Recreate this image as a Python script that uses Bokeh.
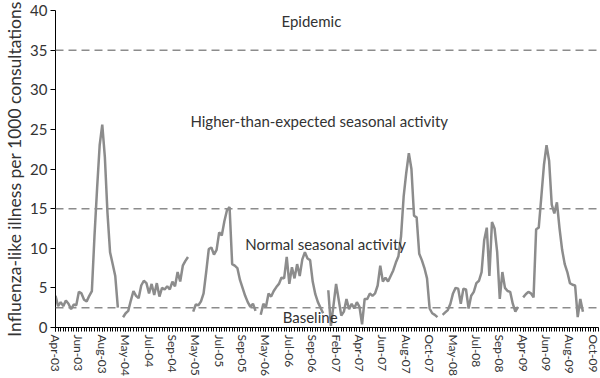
import math
from bokeh.plotting import figure
from bokeh.models import Range1d, FixedTicker, Span, Label
from bokeh.embed import file_html
from bokeh.resources import INLINE

# ---- data (weekly ILI rate per 1000 consultations, one list per season) ----
tick_labels = ["Apr-03", "Jun-03", "Aug-03", "May-04", "Jul-04", "Sep-04",
               "May-05", "Jul-05", "Sep-05", "May-06", "Jul-06", "Sep-06",
               "Feb-07", "Apr-07", "Jun-07", "Aug-07", "Oct-07", "May-08",
               "Jul-08", "Sep-08", "Apr-09", "Jun-09", "Aug-09", "Oct-09"]

season_2003 = [4.0, 2.7, 3.2, 2.7, 3.4, 3.0, 2.3, 2.9, 2.8, 4.5, 4.3, 3.5, 3.3,
               4.0, 4.6, 11.5, 17.5, 23.0, 25.6, 21.5, 14.5, 9.5, 8.0, 6.5, 2.5]
season_2004 = [1.3, 1.8, 2.1, 3.4, 4.6, 4.0, 3.7, 5.3, 5.9, 5.6, 4.3, 5.5, 4.1,
               5.6, 3.9, 5.0, 4.8, 5.2, 4.8, 5.8, 5.2, 7.0, 5.8, 7.8, 8.4, 8.9]
season_2005 = [2.0, 2.9, 2.8, 3.3, 4.3, 7.0, 9.9, 10.1, 9.2, 9.8, 12.0, 11.6,
               13.4, 14.8, 15.2, 8.0, 7.8, 7.5, 6.0, 5.0, 4.0, 3.2, 2.6, 3.0, 2.1]
season_2006 = [1.6, 3.0, 2.6, 4.3, 3.9, 4.6, 5.1, 5.5, 6.3, 6.2, 8.9, 5.5, 7.6,
               6.2, 8.0, 6.5, 8.6, 9.5, 8.7, 8.5, 5.8, 4.2, 3.2, 2.5, 1.8]
season_2007 = [4.7, 0.2, 2.8, 5.5, 3.5, 1.5, 2.0, 3.6, 2.3, 3.0, 2.4, 3.2, 2.6,
               0.4, 3.6, 3.6, 4.3, 4.0, 4.3, 5.3, 7.8, 5.8, 6.3, 5.8, 6.5, 7.2,
               8.2, 9.0, 11.5, 16.5, 19.5, 22.0, 20.0, 14.1, 13.9, 9.3, 8.5, 7.5,
               6.2, 2.4, 1.8, 1.6, 1.3]
season_2008 = [1.6, 1.9, 2.2, 3.0, 4.3, 5.0, 4.9, 3.0, 4.9, 4.8, 2.4, 4.0, 4.5,
               5.6, 5.9, 7.0, 11.0, 12.6, 6.5, 13.3, 12.5, 9.5, 3.6, 7.0, 5.0,
               4.6, 4.5, 3.0, 2.0, 2.6]
season_2009 = [3.8, 4.2, 4.5, 4.3, 3.8, 12.4, 12.6, 16.5, 20.5, 23.0, 21.0, 15.5,
               14.4, 15.8, 12.5, 9.8, 8.0, 7.0, 5.6, 5.4, 5.3, 1.3, 3.6, 2.0]

seasons = [season_2003, season_2004, season_2005, season_2006,
           season_2007, season_2008, season_2009]
n_weeks = 210
label_step = 9
thresholds = [2.5, 15, 35]

# ---- build the weekly series with a break between seasons ----
series = []
for s in seasons:
    series += s + [float("nan")]
series = series[:-1]
series += [float("nan")] * (n_weeks - len(series))
weeks = list(range(n_weeks))
label_idx = list(range(0, n_weeks, label_step))[:len(tick_labels)]

FONT = "Lato"
GREY = "#8c8c8c"

p = figure(width=600, height=378, output_backend="svg", toolbar_location=None,
           x_range=Range1d(0, n_weeks - 1), y_range=Range1d(0, 40),
           min_border_left=55, min_border_right=2, min_border_top=10,
           min_border_bottom=49)
p.outline_line_color = None
p.xgrid.grid_line_color = None
p.ygrid.grid_line_color = None
p.background_fill_color = "white"
p.border_fill_color = "white"

for t in thresholds:
    p.add_layout(Span(location=t, dimension="width", line_color=GREY,
                      line_width=1.5, line_dash="8 5"))

p.line(weeks, series, line_color=GREY, line_width=2.5)

# zone annotations
for txt, xx, yy in [("Epidemic", 98.5, 38.7),
                    ("Higher-than-expected seasonal activity", 101.5, 26.1),
                    ("Normal seasonal activity", 104.0, 10.5),
                    ("Baseline", 98.0, 1.3)]:
    p.add_layout(Label(x=xx, y=yy, text=txt, text_align="center",
                       text_baseline="middle", text_font=FONT,
                       text_font_size="15px", text_color="#333333"))

# x axis
xa = p.xaxis[0]
xa.ticker = FixedTicker(ticks=label_idx, minor_ticks=weeks)
xa.major_label_overrides = {i: lab for i, lab in zip(label_idx, tick_labels)}
xa.major_label_orientation = "vertical"
xa.major_label_text_font = FONT
xa.major_label_text_font_size = "12px"
xa.major_label_text_color = "#333333"
xa.major_label_standoff = 3
xa.major_tick_in = 0
xa.major_tick_out = 4
xa.minor_tick_in = 0
xa.minor_tick_out = 4
xa.axis_line_color = "black"
xa.major_tick_line_color = "black"
xa.minor_tick_line_color = "black"

# y axis
ya = p.yaxis[0]
ya.ticker = FixedTicker(ticks=list(range(0, 41, 5)), minor_ticks=[])
ya.axis_label = "Influenza-like illness per 1000 consultations"
ya.axis_label_text_font = FONT
ya.axis_label_text_font_size = "17.5px"
ya.axis_label_text_font_style = "normal"
ya.axis_label_text_color = "#333333"
ya.axis_label_standoff = 2
ya.major_label_text_font = FONT
ya.major_label_text_font_size = "15px"
ya.major_label_text_color = "#333333"
ya.major_label_standoff = 3
ya.major_tick_in = 0
ya.major_tick_out = 5
ya.axis_line_color = "black"
ya.major_tick_line_color = "black"

open("out.html", "w").write(file_html(p, INLINE))
